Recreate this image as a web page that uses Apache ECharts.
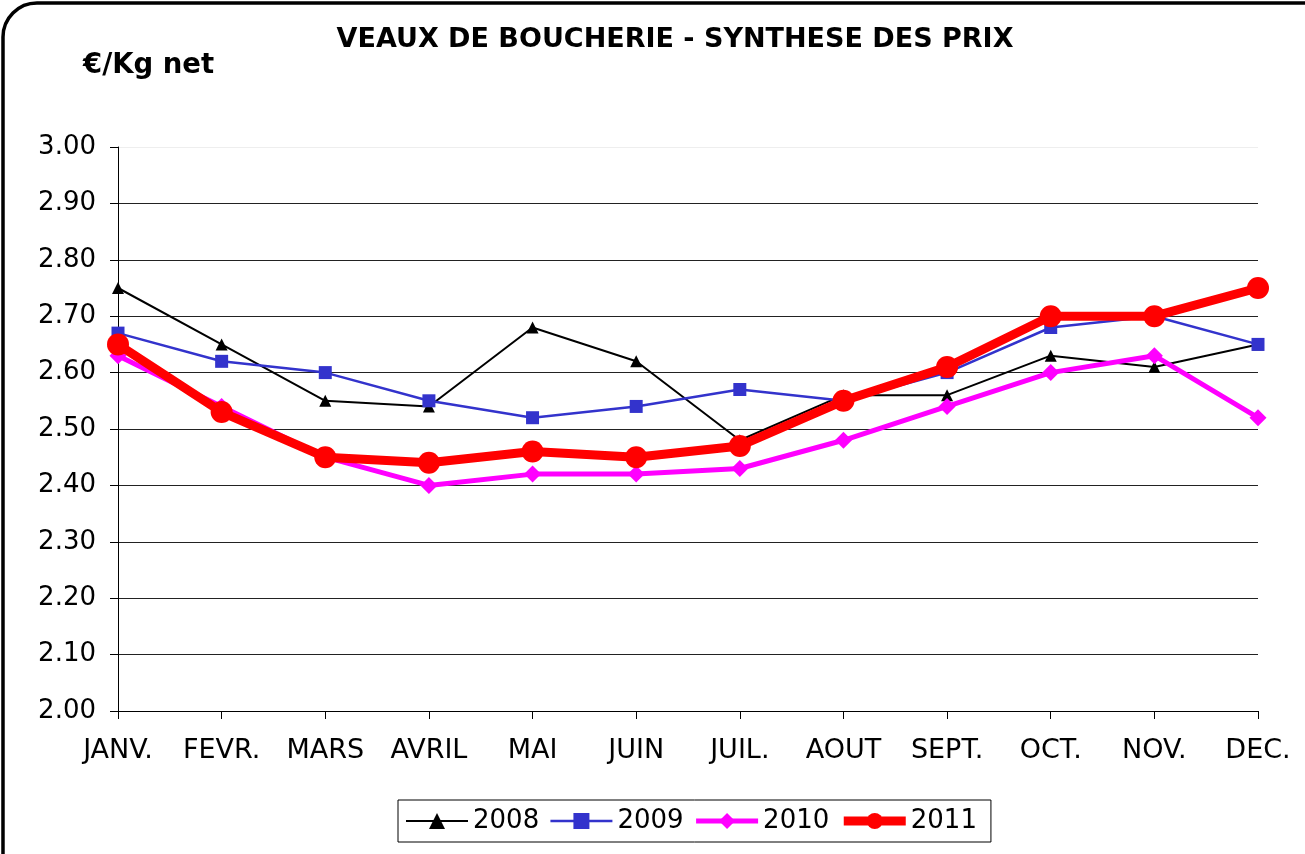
<!DOCTYPE html>
<html><head><meta charset="utf-8">
<script src="https://cdn.jsdelivr.net/npm/echarts@6/dist/echarts.min.js"></script>
<style>html,body{margin:0;padding:0;background:#fff}#c{width:1305px;height:854px}</style>
</head><body><div id="c"></div>
<script>
const categories = ['JANV.','FEVR.','MARS','AVRIL','MAI','JUIN','JUIL.','AOUT','SEPT.','OCT.','NOV.','DEC.'];
const s2008 = [2.75,2.65,2.55,2.54,2.68,2.62,2.48,2.56,2.56,2.63,2.61,2.65];
const s2009 = [2.67,2.62,2.60,2.55,2.52,2.54,2.57,2.55,2.60,2.68,2.70,2.65];
const s2010 = [2.63,2.54,2.45,2.40,2.42,2.42,2.43,2.48,2.54,2.60,2.63,2.52];
const s2011 = [2.65,2.53,2.45,2.44,2.46,2.45,2.47,2.55,2.61,2.70,2.70,2.75];
const titleText = 'VEAUX DE BOUCHERIE - SYNTHESE DES PRIX';
const unitText = '€/Kg net';

const font = 'DejaVu Sans, Verdana, sans-serif';
const chart = echarts.init(document.getElementById('c'));
chart.setOption({
  animation: false,
  backgroundColor: '#fff',
  title: [
    {text: titleText, left: 670, textAlign: 'center', top: 21,
     textStyle: {fontFamily: font, fontSize: 27, fontWeight: 'bold', color: '#000'}},
    {text: unitText, left: 78, top: 47,
     textStyle: {fontFamily: font, fontSize: 27.5, fontWeight: 'bold', color: '#000'}}
  ],
  graphic: [{
    type: 'rect', shape: {x: 3, y: 3, width: 1400, height: 950, r: 34},
    style: {fill: 'none', stroke: '#000', lineWidth: 3.5}, silent: true, z: 0
  }],
  grid: {left: 118, right: 47, top: 147, bottom: 143, containLabel: false},
  legend: {
    left: 398, top: 800,
    borderColor: '#000', borderWidth: 1, backgroundColor: '#fff',
    padding: [8, 14, 8, 7], itemGap: 10, itemWidth: 62, itemHeight: 20,
    textStyle: {fontFamily: font, fontSize: 26, color: '#000'},
    data: [
      {name: '2008', lineStyle: {width: 2}},
      {name: '2009', lineStyle: {width: 2.5}},
      {name: '2010', lineStyle: {width: 5}},
      {name: '2011', lineStyle: {width: 9}}
    ]
  },
  xAxis: {
    type: 'category', data: categories, boundaryGap: false,
    axisLine: {lineStyle: {color: '#000', width: 1}},
    axisTick: {show: true, length: 8, lineStyle: {color: '#000'}, alignWithLabel: true},
    axisLabel: {fontFamily: font, fontSize: 27, color: '#000', margin: 26, interval: 0},
    splitLine: {show: false}
  },
  yAxis: {
    type: 'value', min: 2.0, max: 3.0, interval: 0.1,
    axisLine: {show: true, lineStyle: {color: '#000', width: 1}},
    axisTick: {show: true, length: 8, lineStyle: {color: '#000'}},
    axisLabel: {fontFamily: font, fontSize: 26, color: '#000', margin: 22,
      formatter: v => v.toFixed(2)},
    splitLine: {show: true, lineStyle: {color: ['#000','#222','#222','#222','#222','#222','#222','#222','#222','#222','#eeeeee'], width: 1}}
  },
  series: [
    {name: '2008', type: 'line', data: s2008, symbol: 'triangle', symbolSize: 12,
     lineStyle: {color: '#000', width: 2}, itemStyle: {color: '#000'}, z: 2},
    {name: '2009', type: 'line', data: s2009, symbol: 'rect', symbolSize: 13,
     lineStyle: {color: '#3333CC', width: 2.5}, itemStyle: {color: '#3333CC'}, z: 3},
    {name: '2010', type: 'line', data: s2010, symbol: 'diamond', symbolSize: 17,
     lineStyle: {color: '#FF00FF', width: 5}, itemStyle: {color: '#FF00FF'}, z: 4},
    {name: '2011', type: 'line', data: s2011, symbol: 'circle', symbolSize: 22,
     lineStyle: {color: '#FF0000', width: 9}, itemStyle: {color: '#FF0000'}, z: 5}
  ]
});
</script></body></html>
